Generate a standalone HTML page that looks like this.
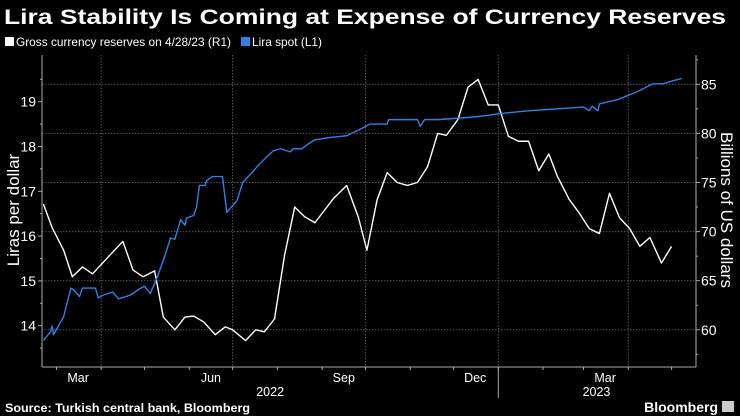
<!DOCTYPE html>
<html><head><meta charset="utf-8"><style>
html,body{margin:0;padding:0;background:#000;}
body{width:740px;height:416px;overflow:hidden;font-family:"Liberation Sans",sans-serif;color:#fff;}
</style></head><body>
<svg id="chart" width="740" height="416" xmlns="http://www.w3.org/2000/svg" style="display:block;background:#000">
<text x="4" y="24" font-size="21" font-weight="bold" fill="#fff" textLength="722" lengthAdjust="spacingAndGlyphs">Lira Stability Is Coming at Expense of Currency Reserves</text>
<g>
<rect x="5" y="37" width="9" height="9" fill="#fff"/>
<text x="16" y="46" font-size="12" fill="#fff" textLength="215" lengthAdjust="spacingAndGlyphs">Gross currency reserves on 4/28/23 (R1)</text>
<rect x="241" y="37" width="9" height="9" fill="#2d82e8"/>
<text x="252" y="46" font-size="12" fill="#fff" textLength="70" lengthAdjust="spacingAndGlyphs">Lira spot (L1)</text>
</g>
<text transform="translate(19,210) rotate(-90)" text-anchor="middle" font-size="17" fill="#fff">Liras per dollar</text>
<text transform="translate(721,210) rotate(90)" text-anchor="middle" font-size="17" fill="#fff">Billions of US dollars</text>
<g id="grid"></g><g id="axes"></g><g id="series"></g>
<text x="5" y="412" font-size="11.5" font-weight="bold" fill="#fff" textLength="245" lengthAdjust="spacingAndGlyphs">Source: Turkish central bank, Bloomberg</text>
<text x="718" y="412" text-anchor="end" font-size="14" font-weight="bold" fill="#fff">Bloomberg</text>
<rect x="722" y="401" width="12" height="11" fill="#ccc"/>
</svg>
<script>
// days since 2022-02-19
const liraDays=[1,6,7,8,15,20,22,26,28,37,39,42,49,53,61,68,71,75,80,85,89,92,96,99,100,105,107,109,113,114,118,125,128,132,135,139,142,145,149,152,156,160,165,172,174,180,184,189,199,211,220,227,239,240,250,260,262,265,274,296,308,316,331,338,366,375,379,381,385,386,399,412,423,430,435,443];
const liraValues=[13.67,13.87,13.99,13.8,14.2,14.84,14.8,14.65,14.84,14.84,14.62,14.68,14.75,14.6,14.68,14.83,14.88,14.72,15.1,15.55,15.96,15.93,16.37,16.24,16.4,16.46,16.64,17.13,17.13,17.24,17.33,17.33,16.53,16.68,16.79,17.2,17.3,17.4,17.55,17.65,17.78,17.9,17.95,17.88,17.95,17.95,18.05,18.15,18.2,18.24,18.38,18.5,18.5,18.6,18.6,18.6,18.45,18.6,18.6,18.65,18.69,18.73,18.78,18.8,18.86,18.88,18.8,18.9,18.8,18.95,19.05,19.22,19.4,19.4,19.45,19.52];
const resDays=[1,7,15,21,28,35,47,56,63,70,78,84,92,99,105,112,120,127,132,141,148,154,161,168,175,182,189,202,211,219,225,232,239,246,253,260,267,274,280,288,295,302,309,316,323,330,337,344,351,357,365,372,379,386,393,400,407,414,421,429,436];
const resValues=[72.8,70.4,68.1,65.4,66.4,65.7,67.6,69.0,66.1,65.4,66.0,61.3,60.0,61.3,61.4,60.8,59.5,60.3,60.0,58.9,60.0,59.8,61.1,67.6,72.5,71.5,70.9,73.4,74.7,71.5,68.1,73.2,76.0,75.0,74.7,75.0,76.6,80.0,79.8,81.4,84.7,85.5,82.9,82.9,79.7,79.2,79.2,76.2,77.9,75.6,73.3,71.9,70.3,69.8,73.9,71.4,70.3,68.5,69.4,66.8,68.5];
const leftTicks=[14,15,16,17,18,19];
const rightTicks=[60,65,70,75,80,85];
const monthStarts=[10,41,71,102,132,163,194,224,255,285,316,347,375,406,436];
const monthLabels=["Mar","Jun","Sep","Dec","Mar"];
const monthLabelDays=[25,117,209,300,390];
const quarterDays=[41,132,224,316,406];
const yearLabels=["2022","2023"];
const yearLabelDays=[158,384];

const X0=42,X1=696,Y0=55,Y1=367;
const xs=d=>X0+d*1.444;
const yL=v=>101.7+(19-v)*44.8;
const yR=v=>84.3+(85-v)*9.82;
const NS="http://www.w3.org/2000/svg";
function mk(tag,attrs,parent){const e=document.createElementNS(NS,tag);for(const k in attrs)e.setAttribute(k,attrs[k]);parent.appendChild(e);return e;}
const grid=document.getElementById('grid'),axes=document.getElementById('axes'),series=document.getElementById('series');
rightTicks.forEach(v=>{const l=mk('line',{x1:X0,x2:X1,y1:yR(v),y2:yR(v),stroke:'#555','stroke-dasharray':'1.5,1.5','stroke-width':1},grid);
});
quarterDays.forEach(d=>{const l=mk('line',{x1:xs(d),x2:xs(d),y1:Y0,y2:Y1,stroke:'#555','stroke-dasharray':'1.5,1.5','stroke-width':1},grid);
});
let a=mk('line',{x1:X0,x2:X0,y1:Y0,y2:Y1,stroke:'#aaa'},axes);
a=mk('line',{x1:X1,x2:X1,y1:Y0,y2:Y1,stroke:'#aaa'},axes);
a=mk('line',{x1:X0,x2:X1,y1:Y1,y2:Y1,stroke:'#aaa'},axes);
a=mk('line',{x1:xs(316),x2:xs(316),y1:Y1,y2:398,stroke:'#aaa'},axes);
for(let v=13.5;v<=19.9;v+=0.5){const l=mk('line',{x1:X0-(v%1===0?4:2),x2:X0,y1:yL(v),y2:yL(v),stroke:'#aaa'},axes);}
leftTicks.forEach(v=>{const t=mk('text',{x:X0-6,y:yL(v)+5,'text-anchor':'end','font-size':14,fill:'#fff'},axes);t.textContent=v;
});
for(let v=57.5;v<=87.5;v+=2.5){const l=mk('line',{x1:X1,x2:X1+(v%5===0?4:2),y1:yR(v),y2:yR(v),stroke:'#aaa'},axes);}
rightTicks.forEach(v=>{const t=mk('text',{x:X1+5,y:yR(v)+5,'font-size':14,fill:'#fff'},axes);t.textContent=v;
});
monthStarts.forEach(d=>{const l=mk('line',{x1:xs(d),x2:xs(d),y1:Y1,y2:Y1+3,stroke:'#aaa'},axes);});
monthLabels.forEach((m,i)=>{const t=mk('text',{x:xs(monthLabelDays[i]),y:382,'text-anchor':'middle','font-size':12.5,fill:'#fff'},axes);t.textContent=m;
});
yearLabels.forEach((m,i)=>{const t=mk('text',{x:xs(yearLabelDays[i]),y:396,'text-anchor':'middle','font-size':12.5,fill:'#fff'},axes);t.textContent=m;
});
const p1=mk('polyline',{points:resDays.map((d,i)=>xs(d)+','+yR(resValues[i])).join(' '),fill:'none',stroke:'#fff','stroke-width':1.4,'stroke-linejoin':'round'},series);

const p2=mk('polyline',{points:liraDays.map((d,i)=>xs(d)+','+yL(liraValues[i])).join(' '),fill:'none',stroke:'#2d82e8','stroke-width':1.4,'stroke-linejoin':'round'},series);

</script>
</body></html>
